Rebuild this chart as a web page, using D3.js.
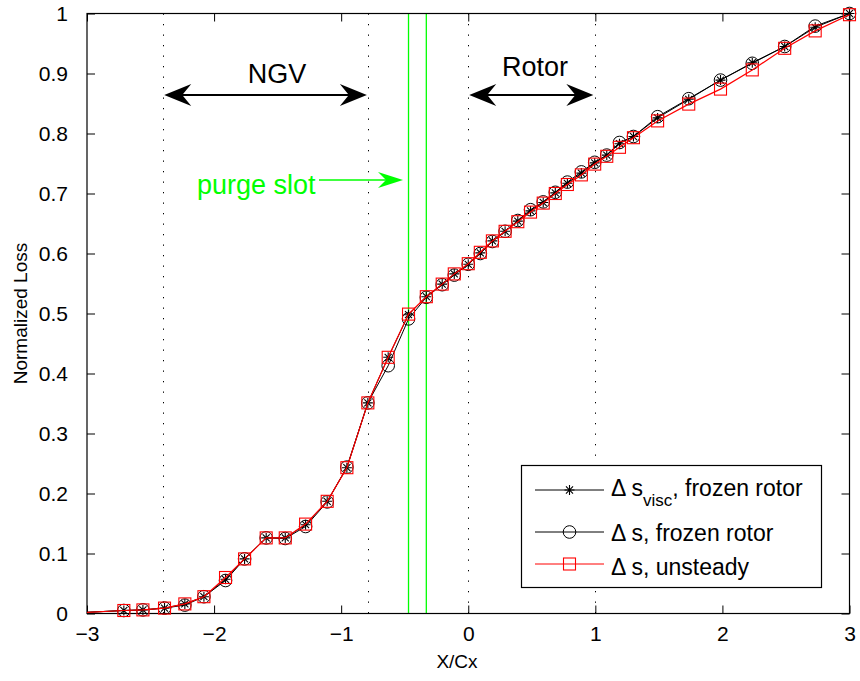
<!DOCTYPE html>
<html>
<head>
<meta charset="utf-8">
<script src="https://cdn.jsdelivr.net/npm/d3@7"></script>
<style>
  body { margin: 0; background: #fff; }
  svg { display: block; font-family: "Liberation Sans", Arial, Helvetica, sans-serif; }
</style>
</head>
<body>
<svg id="chart" width="860" height="681"></svg>
<script>
// Axial stations (X/Cx) shared by all three loss curves
const stations = [-3, -2.71, -2.56, -2.39, -2.23, -2.08, -1.91, -1.76, -1.59, -1.44,
  -1.28, -1.11, -0.955, -0.79, -0.63, -0.47, -0.33, -0.205, -0.11, 0,
  0.095, 0.19, 0.29, 0.39, 0.49, 0.59, 0.685, 0.78, 0.89, 0.995,
  1.09, 1.19, 1.30, 1.49, 1.735, 1.985, 2.235, 2.49, 2.73, 3.0];

// Δs_visc, frozen rotor
const lossViscFrozen = [0.002, 0.005, 0.006, 0.009, 0.016, 0.028, 0.057, 0.091, 0.126, 0.126,
  0.148, 0.187, 0.243, 0.351, 0.427, 0.498, 0.528, 0.549, 0.566, 0.582,
  0.601, 0.621, 0.637, 0.654, 0.671, 0.685, 0.701, 0.717, 0.734, 0.751,
  0.764, 0.783, 0.795, 0.826, 0.857, 0.889, 0.918, 0.945, 0.977, 1.0];

// Δs, frozen rotor
const lossFrozen = [0.002, 0.005, 0.006, 0.009, 0.014, 0.028, 0.055, 0.091, 0.126, 0.125,
  0.145, 0.186, 0.244, 0.351, 0.413, 0.491, 0.527, 0.548, 0.564, 0.582,
  0.600, 0.620, 0.637, 0.655, 0.673, 0.686, 0.702, 0.719, 0.736, 0.752,
  0.764, 0.785, 0.795, 0.828, 0.858, 0.889, 0.917, 0.945, 0.979, 1.0];

// Δs, unsteady
const lossUnsteady = [0.002, 0.005, 0.006, 0.009, 0.016, 0.028, 0.060, 0.091, 0.126, 0.126,
  0.149, 0.187, 0.243, 0.351, 0.427, 0.499, 0.528, 0.549, 0.566, 0.583,
  0.602, 0.621, 0.637, 0.653, 0.669, 0.684, 0.700, 0.715, 0.731, 0.749,
  0.762, 0.777, 0.793, 0.821, 0.849, 0.874, 0.906, 0.942, 0.971, 0.998];

const xTicks = [-3, -2, -1, 0, 1, 2, 3];
const yTicks = [0, 0.1, 0.2, 0.3, 0.4, 0.5, 0.6, 0.7, 0.8, 0.9, 1];

// Blade-row extents and purge slot edges (X/Cx)
const ngvSpan = [-2.4, -0.79];
const rotorSpan = [0, 1];
const purgeSlot = [-0.47, -0.33];

const svg = d3.select("#chart");
const L = 87, R = 849.5, T = 13.5, B = 613.5;

const x = d3.scaleLinear().domain([-3, 3]).range([L, R]);
const y = d3.scaleLinear().domain([0, 1]).range([B, T]);

// Dotted blade-row boundaries
const bounds = [...ngvSpan, ...rotorSpan];
svg.append("g").selectAll("line").data(bounds).join("line")
  .attr("x1", d => Math.round(x(d)) + 0.5).attr("x2", d => Math.round(x(d)) + 0.5)
  .attr("y1", T).attr("y2", B)
  .attr("stroke", "#000").attr("stroke-width", 1)
  .attr("stroke-dasharray", "1.3,9.2");

// Purge slot edges
svg.append("g").selectAll("line").data(purgeSlot).join("line")
  .attr("x1", d => x(d)).attr("x2", d => x(d))
  .attr("y1", T).attr("y2", B)
  .attr("stroke", "#00ff00").attr("stroke-width", 1.3);

// Axes with inward ticks on all four sides
const fmtX = d3.format("d");
const fmtY = d => String(+d.toFixed(1));
svg.append("g").attr("transform", `translate(0,${B})`)
  .call(d3.axisBottom(x).tickValues(xTicks).tickFormat(fmtX).tickSize(-8).tickPadding(12.6));
svg.append("g").attr("transform", `translate(${L},0)`)
  .call(d3.axisLeft(y).tickValues(yTicks).tickFormat(fmtY).tickSize(-8).tickPadding(19));
svg.append("g").attr("transform", `translate(0,${T})`)
  .call(d3.axisTop(x).tickValues(xTicks).tickFormat("").tickSize(-8));
svg.append("g").attr("transform", `translate(${R},0)`)
  .call(d3.axisRight(y).tickValues(yTicks).tickFormat("").tickSize(-8));
svg.selectAll(".domain").remove();
svg.selectAll(".tick line").attr("stroke", "#000");
svg.selectAll(".tick text").attr("fill", "#000").style("font-size", "21px")
  .style("font-family", '"Liberation Sans", Arial, sans-serif');

svg.append("rect").attr("x", L).attr("y", T).attr("width", R - L).attr("height", B - T)
  .attr("fill", "none").attr("stroke", "#000").attr("stroke-width", 1.2);

// Axis titles
svg.append("text").attr("x", 457).attr("y", 668).attr("text-anchor", "middle")
  .style("font-size", "19px").text("X/Cx");
svg.append("text").attr("transform", `translate(27,${(T + B) / 2}) rotate(-90)`)
  .attr("text-anchor", "middle").style("font-size", "19px").text("Normalized Loss");

// Marker shapes
function starPath(r) {
  const d = r * Math.SQRT1_2;
  return `M${-r},0H${r}M0,${-r}V${r}M${-d},${-d}L${d},${d}M${-d},${d}L${d},${-d}`;
}
function drawMarker(g, kind, cx, cy, color) {
  if (kind === "star") {
    g.append("path").attr("d", starPath(5)).attr("transform", `translate(${cx},${cy})`)
      .attr("stroke", color).attr("stroke-width", 1.1).attr("fill", "none");
  } else if (kind === "circle") {
    g.append("circle").attr("cx", cx).attr("cy", cy).attr("r", 6.3)
      .attr("stroke", color).attr("stroke-width", 1).attr("fill", "none");
  } else {
    g.append("rect").attr("x", cx - 6).attr("y", cy - 6).attr("width", 12).attr("height", 12)
      .attr("stroke", color).attr("stroke-width", 1.1).attr("fill", "none");
  }
}

const series = [
  { values: lossViscFrozen, color: "#000", marker: "star" },
  { values: lossFrozen, color: "#000", marker: "circle" },
  { values: lossUnsteady, color: "#ff0000", marker: "square" }
];

const line = d3.line().x(d => x(d[0])).y(d => y(d[1]));
series.forEach(s => {
  const pts = stations.map((xv, i) => [xv, s.values[i]]);
  const g = svg.append("g");
  g.append("path").attr("d", line(pts)).attr("fill", "none")
    .attr("stroke", s.color).attr("stroke-width", s.marker === "square" ? 1.2 : 1);
  // the inlet station carries the line only
  pts.slice(1).forEach(p => drawMarker(g, s.marker, x(p[0]), y(p[1]), s.color));
});

// Double-headed arrows marking blade rows
function head(tipX, tipY, dir, len, half, notch) {
  return `M${tipX},${tipY}L${tipX - dir * len},${tipY - half}L${tipX - dir * notch},${tipY}L${tipX - dir * len},${tipY + half}Z`;
}
function doubleArrow(x1, x2, yy) {
  const g = svg.append("g");
  g.append("line").attr("x1", x1 + 15).attr("x2", x2 - 15).attr("y1", yy).attr("y2", yy)
    .attr("stroke", "#000").attr("stroke-width", 2);
  g.append("path").attr("d", head(x1, yy, -1, 27, 11, 18)).attr("fill", "#000");
  g.append("path").attr("d", head(x2, yy, 1, 27, 11, 18)).attr("fill", "#000");
}
doubleArrow(x(ngvSpan[0]) + 1, x(ngvSpan[1]) - 1, 95);
doubleArrow(x(rotorSpan[0]) + 1, x(rotorSpan[1]) - 2, 95);

svg.append("text").attr("x", 277).attr("y", 83).attr("text-anchor", "middle")
  .style("font-size", "27px").text("NGV");
svg.append("text").attr("x", 535).attr("y", 76).attr("text-anchor", "middle")
  .style("font-size", "27px").text("Rotor");

// Purge slot callout
svg.append("text").attr("x", 197).attr("y", 194).attr("fill", "#00ff00")
  .style("font-size", "27px").text("purge slot");
svg.append("line").attr("x1", 319).attr("x2", 390).attr("y1", 180).attr("y2", 180)
  .attr("stroke", "#00ff00").attr("stroke-width", 1.5);
svg.append("path").attr("d", head(403, 180, 1, 25, 8, 17)).attr("fill", "#00ff00");

// Legend
const lg = svg.append("g");
lg.append("rect").attr("x", 521.5).attr("y", 465.5).attr("width", 300).attr("height", 122)
  .attr("fill", "#fff").attr("stroke", "#000").attr("stroke-width", 1.2);
const rows = [490, 532, 564];
const base = [496, 541, 575];
series.forEach((s, i) => {
  lg.append("line").attr("x1", 535).attr("x2", 604).attr("y1", rows[i]).attr("y2", rows[i])
    .attr("stroke", s.color).attr("stroke-width", 1);
  drawMarker(lg, s.marker, 569.5, rows[i], s.color);
});
const t0 = lg.append("text").attr("x", 611).attr("y", base[0]).style("font-size", "23px");
t0.append("tspan").text("Δ s");
t0.append("tspan").attr("dy", 10).style("font-size", "17px").text("visc");
t0.append("tspan").attr("dy", -10).text(", frozen rotor");
lg.append("text").attr("x", 611).attr("y", base[1]).style("font-size", "23px").text("Δ s, frozen rotor");
lg.append("text").attr("x", 611).attr("y", base[2]).style("font-size", "23px").text("Δ s, unsteady");
</script>
</body>
</html>
